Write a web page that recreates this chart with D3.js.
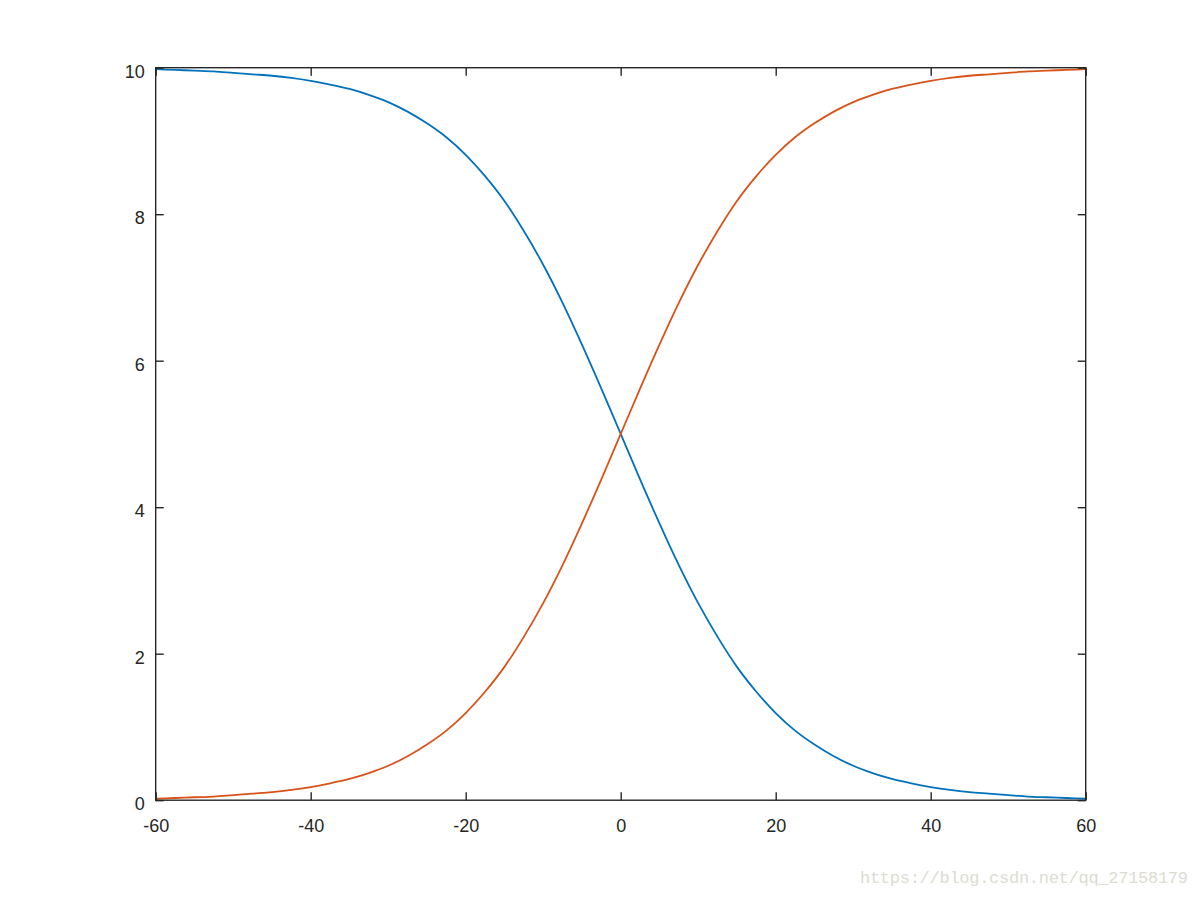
<!DOCTYPE html>
<html>
<head>
<meta charset="utf-8">
<script src="https://cdn.jsdelivr.net/npm/d3@7"></script>
<style>
  html, body { margin: 0; padding: 0; background: #fff; }
  svg { display: block; }
</style>
</head>
<body>
<svg id="chart" width="1200" height="898"></svg>
<script>
// Data
const xValues = [-60, -57.5, -55, -52.5, -50, -47.5, -45, -42.5, -40, -37.5, -35, -32.5, -30, -27.5, -25, -22.5, -20, -17.5, -15, -12.5, -10, -7.5, -5, -2.5,
  0, 2.5, 5, 7.5, 10, 12.5, 15, 17.5, 20, 22.5, 25, 27.5, 30, 32.5, 35, 37.5, 40, 42.5, 45, 47.5, 50, 52.5, 55, 57.5, 60];
const blueValues = [9.98, 9.97, 9.96, 9.95, 9.93, 9.91, 9.89, 9.86, 9.82, 9.77, 9.71, 9.63, 9.53, 9.40, 9.24, 9.05, 8.81, 8.52, 8.18, 7.77, 7.31, 6.79, 6.22, 5.62,
  5.00, 4.38, 3.78, 3.21, 2.69, 2.23, 1.82, 1.48, 1.19, 0.95, 0.76, 0.60, 0.47, 0.37, 0.29, 0.23, 0.18, 0.14, 0.11, 0.09, 0.07, 0.05, 0.04, 0.03, 0.02];
const orangeValues = [0.02, 0.03, 0.04, 0.05, 0.07, 0.09, 0.11, 0.14, 0.18, 0.23, 0.29, 0.37, 0.47, 0.60, 0.76, 0.95, 1.19, 1.48, 1.82, 2.23, 2.69, 3.21, 3.78, 4.38,
  5.00, 5.62, 6.22, 6.79, 7.31, 7.77, 8.18, 8.52, 8.81, 9.05, 9.24, 9.40, 9.53, 9.63, 9.71, 9.77, 9.82, 9.86, 9.89, 9.91, 9.93, 9.95, 9.96, 9.97, 9.98];
const xTicks = [-60, -40, -20, 0, 20, 40, 60];
const yTicks = [0, 2, 4, 6, 8, 10];
const watermark = "https://blog.csdn.net/qq_27158179";

(function () {
const svg = d3.select("#chart");
const pLeft = 155.7, pRight = 1085.7, pTop = 67.7, pBottom = 800.2;
const x = d3.scaleLinear().domain([-60, 60]).range([pLeft, pRight]);
const y = d3.scaleLinear().domain([0, 10]).range([pBottom, pTop]);
const axisColor = "#262626";
const font = "'Liberation Sans', Arial, Helvetica, sans-serif";
const fmt = d => String(d);

const line = d3.line().x(d => x(d[0])).y(d => y(d[1])).curve(d3.curveMonotoneX);
svg.append("clipPath").attr("id", "clip").append("rect")
  .attr("x", pLeft).attr("y", pTop - 2).attr("width", pRight - pLeft).attr("height", pBottom - pTop + 4);

const series = [
  { values: blueValues, color: "#0072BD" },
  { values: orangeValues, color: "#D95319" }
];
series.forEach(s => {
  svg.append("path")
    .datum(xValues.map((xv, i) => [xv, s.values[i]]))
    .attr("d", line)
    .attr("fill", "none")
    .attr("stroke", s.color)
    .attr("stroke-width", 1.8)
    .attr("clip-path", "url(#clip)");
});

// Axes (box with inward ticks)
const tickLen = 8;
svg.append("rect").attr("x", pLeft).attr("y", pTop).attr("width", pRight - pLeft).attr("height", pBottom - pTop)
  .attr("fill", "none").attr("stroke", axisColor).attr("stroke-width", 1.4);

const gx = svg.append("g").attr("transform", `translate(0,${pBottom})`)
  .call(d3.axisBottom(x).tickValues(xTicks).tickSize(-tickLen).tickPadding(19).tickFormat(fmt));
const gxTop = svg.append("g").attr("transform", `translate(0,${pTop})`)
  .call(d3.axisTop(x).tickValues(xTicks).tickSize(-tickLen).tickFormat(""));
const gy = svg.append("g").attr("transform", `translate(${pLeft},0)`)
  .call(d3.axisLeft(y).tickValues(yTicks).tickSize(-tickLen).tickPadding(11).tickFormat(fmt));
const gyRight = svg.append("g").attr("transform", `translate(${pRight},0)`)
  .call(d3.axisRight(y).tickValues(yTicks).tickSize(-tickLen).tickFormat(""));

[gx, gxTop, gy, gyRight].forEach(g => {
  g.select(".domain").remove();
  g.selectAll(".tick line").attr("stroke", axisColor).attr("stroke-width", 1.4);
  g.selectAll(".tick text").attr("fill", axisColor).style("font-family", font).style("font-size", "18px");
});
gx.selectAll(".tick text").attr("dy", "0.71em");
gy.selectAll(".tick text").attr("dy", "0.54em");

// Watermark
svg.append("text")
  .attr("x", 1188).attr("y", 883)
  .attr("text-anchor", "end")
  .attr("fill", "#dcdcd2")
  .attr("textLength", 328)
  .style("font-family", "'Liberation Mono', 'Courier New', monospace")
  .style("font-size", "17px")
  .text(watermark);
})();
</script>
</body>
</html>
